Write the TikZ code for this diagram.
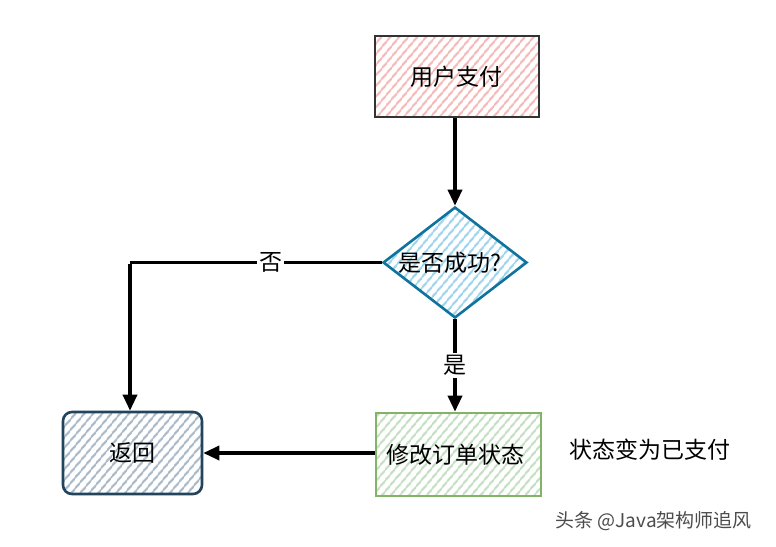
\documentclass[tikz,border=0pt]{standalone}
\usepackage{fontspec}
\setmainfont{Noto Sans CJK SC}
\usetikzlibrary{arrows.meta,patterns.meta,shapes.geometric}
\definecolor{pinkfill}{HTML}{F5B8B6}
\definecolor{pinkline}{HTML}{333333}
\definecolor{bluefill}{HTML}{9DD3EC}
\definecolor{blueline}{HTML}{10739E}
\definecolor{grayfill}{HTML}{A8B8C6}
\definecolor{grayline}{HTML}{23445D}
\definecolor{greenfill}{HTML}{C3DFC1}
\definecolor{greenline}{HTML}{82B366}
\tikzset{
  hatch/.style={pattern={Lines[angle=50,distance=6.5pt,line width=2pt]},pattern color=#1},
  lbl/.style={font=\fontsize{23}{26}\selectfont,text=black},
  conn/.style={line width=3.4pt,-{Triangle[length=16pt,width=14pt]}},
  plain/.style={line width=3.4pt},
  boxline/.style={line width=2.6pt},
}
\begin{document}
\begin{tikzpicture}[x=1pt,y=-1pt]
\path[use as bounding box,fill=white] (0,0) rectangle (776,546);
% start box
\node[draw=pinkline,boxline,hatch=pinkfill,minimum width=164pt,minimum height=81pt,inner sep=0pt] (pay) at (457,76.5) {};
\node[lbl] (paytxt) at (456,76.5) {用户支付};
% diamond
\node[diamond,draw=blueline,boxline,hatch=bluefill,minimum width=144pt,minimum height=111pt,inner sep=0pt,aspect=1.3] (dec) at (455,262.5) {};
\node[lbl] (dectxt) at (450,262.5) {是否成功?};
% return box
\node[draw=grayline,boxline,rounded corners=9pt,hatch=grayfill,minimum width=139pt,minimum height=82pt,inner sep=0pt] (ret) at (132.5,453) {};
\node[lbl] (rettxt) at (132.5,453) {返回};
% modify box
\node[draw=greenline,boxline,hatch=greenfill,minimum width=165pt,minimum height=83pt,inner sep=0pt] (mod) at (458.5,454.5) {};
\node[lbl] (modtxt) at (455,454.5) {修改订单状态};
% note
\node[lbl,anchor=west] (note) at (566,450) {状态变为已支付};
% connectors
\coordinate (corner) at (130,262.5);
\draw[conn] (pay.south -| dec.north) -- (dec.north);
\draw[conn] (dec.south) -- node[lbl,fill=white,inner sep=2pt] (yes) {是} (mod.north -| dec.south);
\draw[plain] (dec.west) -- node[lbl,fill=white,inner sep=2pt,pos=0.44] (no) {否} (corner);
\draw[conn] ([yshift=-1.7pt]corner) -- (corner |- ret.north);
\draw[conn] (mod.west |- ret.east) -- (ret.east);
% watermark
\node[font=\fontsize{19}{22}\selectfont,text=black!70,anchor=west] (wm) at (552,521) {头条 @Java架构师追风};
\end{tikzpicture}
\end{document}
